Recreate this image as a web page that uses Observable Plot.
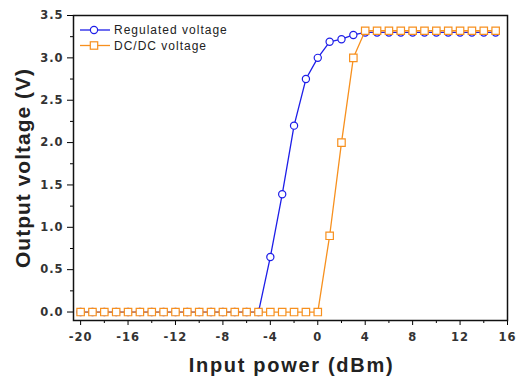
<!DOCTYPE html>
<html>
<head>
<meta charset="utf-8">
<script src="https://cdn.jsdelivr.net/npm/d3@7"></script>
<script src="https://cdn.jsdelivr.net/npm/@observablehq/plot@0.6"></script>
<style>
  html, body { margin: 0; padding: 0; background: #fff; }
  #wrap { position: relative; width: 517px; height: 376px; font-family: "Liberation Sans", Arial, sans-serif; }
</style>
</head>
<body>
<div id="wrap"></div>
<script>
const inputPower = [-20,-19,-18,-17,-16,-15,-14,-13,-12,-11,-10,-9,-8,-7,-6,-5,-4,-3,-2,-1,0,1,2,3,4,5,6,7,8,9,10,11,12,13,14,15];
const regulatedVoltage = [0,0,0,0,0,0,0,0,0,0,0,0,0,0,0,0,0.65,1.39,2.2,2.75,3.0,3.19,3.22,3.27,3.3,3.3,3.3,3.3,3.3,3.3,3.3,3.3,3.3,3.3,3.3,3.3];
const dcdcVoltage = [0,0,0,0,0,0,0,0,0,0,0,0,0,0,0,0,0,0,0,0,0,0.9,2.0,3.0,3.32,3.32,3.32,3.32,3.32,3.32,3.32,3.32,3.32,3.32,3.32,3.32];
const seriesNames = ["Regulated voltage", "DC/DC voltage"];
const xMajorTicks = [-20,-16,-12,-8,-4,0,4,8,12,16];
const xMinorTicks = [-18,-14,-10,-6,-2,2,6,10,14];
const yMajorTicks = [0,0.5,1.0,1.5,2.0,2.5,3.0,3.5];
const yMinorTicks = [0.25,0.75,1.25,1.75,2.25,2.75,3.25];
const xLabel = "Input power (dBm)";
const yLabel = "Output voltage (V)";

const blue = "#1e1ee8";
const orange = "#f7901e";

const reg = inputPower.map((x, i) => ({x, y: regulatedVoltage[i]}));
const dc = inputPower.map((x, i) => ({x, y: dcdcVoltage[i]}));

const tickStyle = {fontSize: 11.5, fontWeight: "bold", fill: "#333", fontFamily: "'DejaVu Sans', sans-serif"};

const chart = Plot.plot({
  width: 517,
  height: 376,
  marginLeft: 73,
  marginRight: 10,
  marginTop: 15,
  marginBottom: 56,
  style: {fontFamily: "'Liberation Sans', Arial, sans-serif", background: "#fff", overflow: "visible"},
  x: {domain: [-20.6, 16]},
  y: {domain: [-0.1, 3.5]},
  marks: [
    Plot.axisX({ticks: xMajorTicks, tickSize: 5, tickPadding: 7, tickFormat: d => String(d), label: null, ...tickStyle}),
    Plot.axisX({ticks: xMinorTicks, tickSize: 3, tickFormat: () => "", label: null}),
    Plot.axisY({ticks: yMajorTicks, tickSize: 6, tickPadding: 4, tickFormat: d3.format(".1f"), label: null, ...tickStyle}),
    Plot.axisY({ticks: yMinorTicks, tickSize: 3, tickFormat: () => "", label: null}),
    Plot.lineY(reg, {x: "x", y: "y", stroke: blue, strokeWidth: 1.3}),
    Plot.dot(reg, {x: "x", y: "y", r: 3.6, stroke: blue, fill: "white", strokeWidth: 1.2}),
    Plot.lineY(dc, {x: "x", y: "y", stroke: orange, strokeWidth: 1.3}),
    Plot.dot(dc, {x: "x", y: "y", symbol: "square", r: 4.2, stroke: orange, fill: "white", strokeWidth: 1.2}),
    Plot.frame({stroke: "#111", strokeWidth: 1.5}),
    Plot.text([xLabel], {text: d => d, frameAnchor: "bottom", textAnchor: "middle", lineAnchor: "middle", dx: 1, dy: 45, fontSize: 20, fontWeight: "bold", fill: "#222"}),
    Plot.text([yLabel], {text: d => d, frameAnchor: "left", textAnchor: "middle", lineAnchor: "middle", rotate: -90, dx: -50, dy: 0, fontSize: 21, fontWeight: "bold", fill: "#222"})
  ]
});

const wrap = document.getElementById("wrap");
wrap.appendChild(chart);

// letter spacing adjustments (the reference type is wide)
d3.select(chart).selectAll("text").each(function() {
  const t = this.textContent;
  if (t === xLabel) this.setAttribute("letter-spacing", "1.7px");
  else if (t === yLabel) this.setAttribute("letter-spacing", "1px");
  else this.setAttribute("letter-spacing", "1px");
});

// legend overlay
const lg = d3.create("svg").attr("id", "legend").attr("width", 260).attr("height", 60)
  .style("position", "absolute").style("left", "0px").style("top", "0px");
const colors = [blue, orange];
seriesNames.forEach((name, i) => {
  const cy = 30 + i * 15.5;
  const g = lg.append("g");
  g.append("line").attr("x1", 80).attr("x2", 110).attr("y1", cy).attr("y2", cy).attr("stroke", colors[i]).attr("stroke-width", 1.3);
  if (i === 0) {
    g.append("circle").attr("cx", 94).attr("cy", cy).attr("r", 3.6).attr("fill", "white").attr("stroke", colors[i]).attr("stroke-width", 1.2);
  } else {
    g.append("rect").attr("x", 90.3).attr("y", cy - 3.7).attr("width", 7.4).attr("height", 7.4).attr("fill", "white").attr("stroke", colors[i]).attr("stroke-width", 1.2);
  }
  g.append("text").attr("x", 114).attr("y", cy).attr("dy", "0.35em")
    .attr("font-family", "'Liberation Sans', Arial, sans-serif").attr("font-size", 12)
    .attr("letter-spacing", "1px")
    .attr("fill", "#222").text(name);
});
wrap.appendChild(lg.node());
</script>
</body>
</html>
